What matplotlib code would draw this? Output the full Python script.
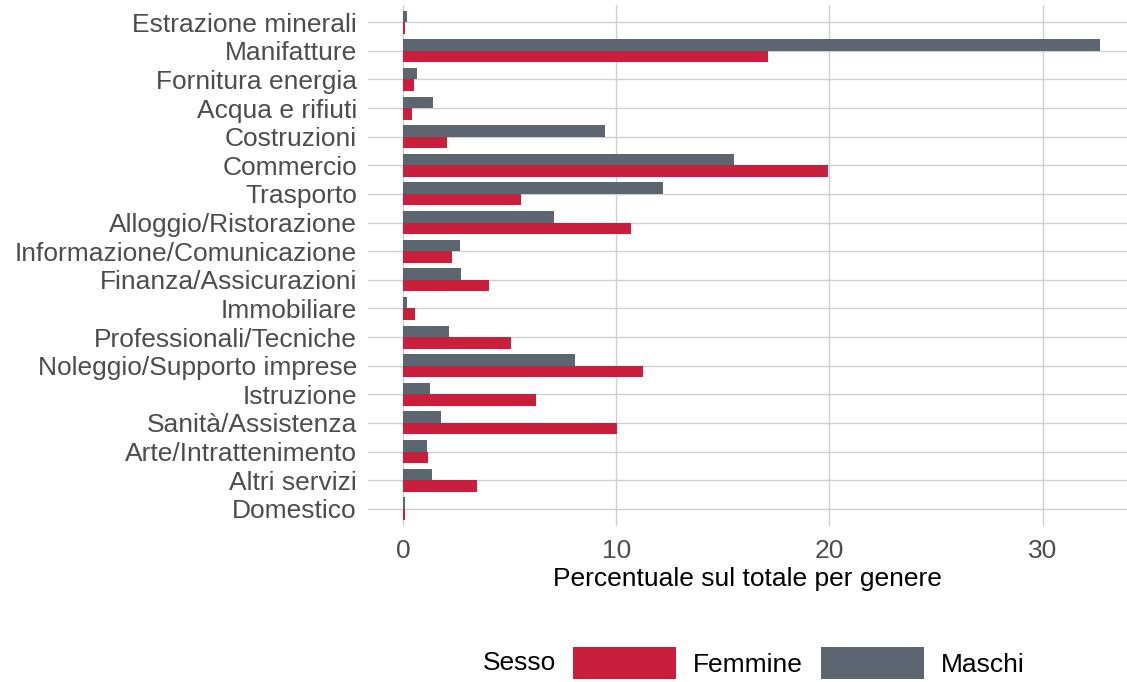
import matplotlib
matplotlib.use("Agg")
import matplotlib.pyplot as plt
from matplotlib.patches import Patch
import numpy as np

plt.rcParams["font.family"] = ["Liberation Sans", "DejaVu Sans"]

# Settori (dall'alto verso il basso)
settori = [
    "Estrazione minerali", "Manifatture", "Fornitura energia", "Acqua e rifiuti",
    "Costruzioni", "Commercio", "Trasporto", "Alloggio/Ristorazione",
    "Informazione/Comunicazione", "Finanza/Assicurazioni", "Immobiliare",
    "Professionali/Tecniche", "Noleggio/Supporto imprese", "Istruzione",
    "Sanità/Assistenza", "Arte/Intrattenimento", "Altri servizi", "Domestico",
]

# Percentuale sul totale per genere
maschi = [0.19, 32.7, 0.66, 1.41, 9.48, 15.5, 12.2, 7.09, 2.68, 2.72,
          0.19, 2.16, 8.07, 1.27, 1.78, 1.13, 1.36, 0.10]
femmine = [0.10, 17.1, 0.52, 0.42, 2.06, 19.95, 5.54, 10.7, 2.30, 4.03,
           0.56, 5.07, 11.27, 6.24, 10.05, 1.17, 3.47, 0.10]

col_f = "#C91F3D"
col_m = "#5C6670"
grid_col = "#CFCFCF"
fs = 19

fig = plt.figure(figsize=(11.27, 6.82), dpi=100)
ax = fig.add_axes([368 / 1127, 1 - 526 / 682, 1 - 368 / 1127, (526 - 5) / 682])

y = np.arange(len(settori))
h = 0.4
ax.barh(y - h / 2, maschi, height=h, color=col_m, zorder=3)
ax.barh(y + h / 2, femmine, height=h, color=col_f, zorder=3)

ax.set_xlim(-1.64, 33.95)
ax.set_ylim(len(settori) - 1 + 0.6, -0.6)
ax.set_yticks(y)
ax.set_yticklabels(settori)
ax.set_xticks([0, 10, 20, 30])

ax.grid(True, color=grid_col, linewidth=1.0, zorder=0)
ax.set_axisbelow(True)
for s in ax.spines.values():
    s.set_visible(False)
ax.tick_params(axis="both", length=0, labelsize=fs, labelcolor="#4D4D4D")
ax.tick_params(axis="y", pad=8)
ax.tick_params(axis="x", pad=9)
ax.set_xlabel("Percentuale sul totale per genere", fontsize=fs, color="black", labelpad=3)

# Legenda in basso
fig.text(483 / 1127, 1 - 663 / 682, "Sesso", fontsize=fs, va="center", ha="left")
handles = [Patch(facecolor=col_f, edgecolor="none", label="Femmine"),
           Patch(facecolor=col_m, edgecolor="none", label="Maschi")]
fig.legend(handles=handles, loc="center left", bbox_to_anchor=(573 / 1127, 1 - 663 / 682),
           ncol=2, frameon=False, fontsize=fs, handlelength=3.9, handleheight=1.5,
           handletextpad=0.64, columnspacing=0.68, borderpad=0, borderaxespad=0)

fig.savefig("out.png", dpi=100)
